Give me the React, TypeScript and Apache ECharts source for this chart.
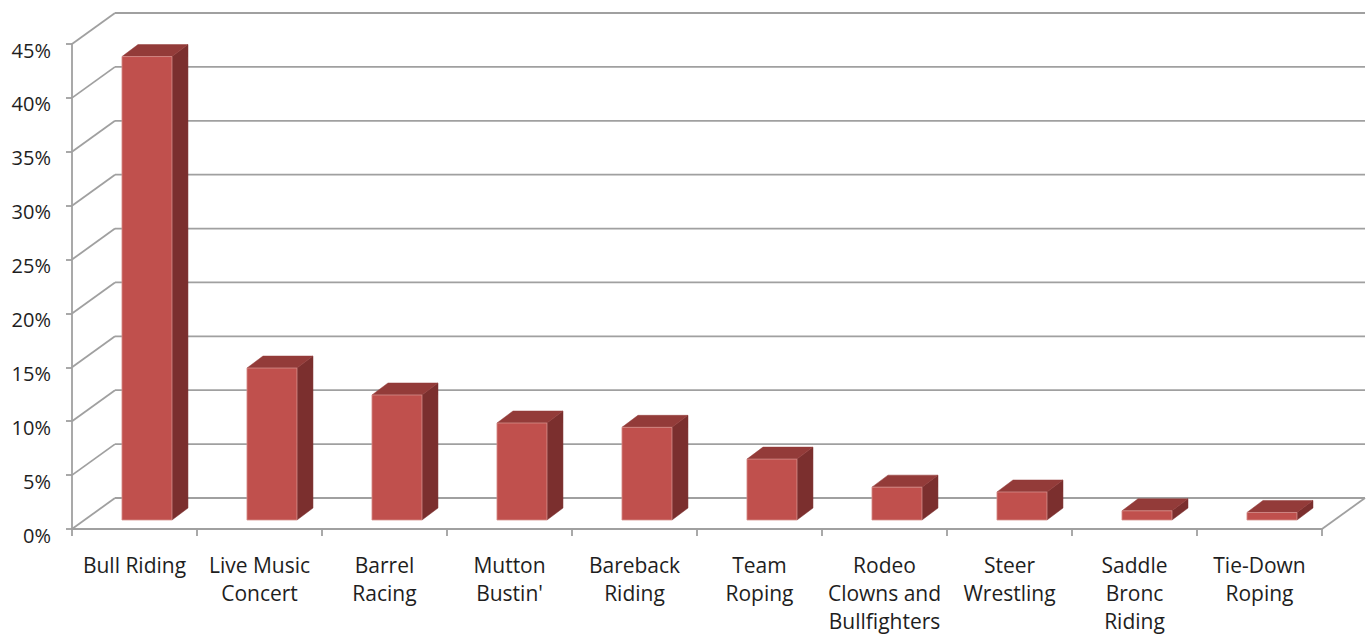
import React, { useEffect, useRef } from "react";
import * as echarts from "echarts";

const categories = [
  "Bull Riding",
  "Live Music\nConcert",
  "Barrel\nRacing",
  "Mutton\nBustin'",
  "Bareback\nRiding",
  "Team\nRoping",
  "Rodeo\nClowns and\nBullfighters",
  "Steer\nWrestling",
  "Saddle\nBronc\nRiding",
  "Tie-Down\nRoping",
];
const values = [43.0, 14.1, 11.6, 9.0, 8.6, 5.65, 3.05, 2.6, 0.85, 0.7];
const yTicks = [0, 5, 10, 15, 20, 25, 30, 35, 40, 45];

const DEPTH_X = 43;
const DEPTH_Y = 31;
const BAR_FRONT = 0.29;
const BAR_DX = 16;
const BAR_DY = 12;
const BAR_W = 50;
const GRID_COLOR = "#a0a0a0";
const FONT = "Open Sans";

export default function App() {
  const ref = useRef<HTMLDivElement>(null);
  useEffect(() => {
    const chart = echarts.init(ref.current!, null, { renderer: "svg" });
    chart.setOption({
      animation: false,
      backgroundColor: "#ffffff",
      grid: { left: 72, top: 44, width: 1250, height: 485, containLabel: false },
      xAxis: {
        type: "category",
        data: categories,
        boundaryGap: true,
        axisLine: { show: true, lineStyle: { color: GRID_COLOR, width: 1.8 } },
        axisTick: { show: true, length: 7, alignWithLabel: false, lineStyle: { color: GRID_COLOR, width: 1.8 } },
        axisLabel: {
          color: "#1e1e1e",
          fontFamily: FONT,
          fontSize: 21,
          lineHeight: 28,
          margin: 22,
          interval: 0,
        },
        splitLine: { show: false },
      },
      yAxis: {
        type: "value",
        min: 0,
        max: 45,
        interval: 5,
        axisLine: { show: true, lineStyle: { color: GRID_COLOR, width: 1.8 } },
        axisTick: { show: true, length: 6, lineStyle: { color: GRID_COLOR, width: 1.8 } },
        axisLabel: {
          color: "#1e1e1e",
          fontFamily: FONT,
          fontSize: 20,
          margin: 21,
          formatter: "{value}%",
          verticalAlign: "top",
          padding: [-4, 0, 0, 0],
        },
        splitLine: { show: false },
      },
      series: [
        {
          type: "custom",
          z: 1,
          silent: true,
          data: yTicks.map((v) => [0, v]),
          renderItem: (params: any, api: any) => {
            const cs = params.coordSys;
            const v = api.value(1);
            const y = api.coord([0, v])[1];
            const x0 = cs.x;
            const x1 = cs.x + cs.width;
            const style = { stroke: GRID_COLOR, lineWidth: 1.8, fill: "none" };
            const children: any[] = [
              { type: "line", shape: { x1: x0, y1: y, x2: x0 + DEPTH_X, y2: y - DEPTH_Y }, style },
              { type: "line", shape: { x1: x0 + DEPTH_X, y1: y - DEPTH_Y, x2: x1 + DEPTH_X, y2: y - DEPTH_Y }, style },
            ];
            if (v === 0) {
              children.push({ type: "line", shape: { x1: x1, y1: y, x2: x1 + DEPTH_X, y2: y - DEPTH_Y }, style });
            }
            return { type: "group", children };
          },
        },
        {
          type: "custom",
          z: 3,
          data: values.map((v, i) => [i, v]),
          renderItem: (params: any, api: any) => {
            const idx = api.value(0);
            const v = api.value(1);
            const base = api.coord([idx, 0]);
            const top = api.coord([idx, v]);
            const offX = BAR_FRONT * DEPTH_X;
            const offY = BAR_FRONT * DEPTH_Y;
            const cx = base[0] + offX;
            const xL = cx - BAR_W / 2;
            const xR = cx + BAR_W / 2;
            const yB = base[1] - offY;
            const yT = top[1] - offY;
            return {
              type: "group",
              children: [
                {
                  type: "polygon",
                  shape: { points: [[xR, yT], [xR + BAR_DX, yT - BAR_DY], [xR + BAR_DX, yB - BAR_DY], [xR, yB]] },
                  style: { fill: "#7b2f2e", stroke: "#7b2f2e", lineWidth: 0.5 },
                },
                {
                  type: "polygon",
                  shape: { points: [[xL, yT], [xL + BAR_DX, yT - BAR_DY], [xR + BAR_DX, yT - BAR_DY], [xR, yT]] },
                  style: { fill: "#933b39", stroke: "#933b39", lineWidth: 0.5 },
                },
                {
                  type: "rect",
                  shape: { x: xL, y: yT, width: BAR_W, height: yB - yT },
                  style: { fill: "#c0504d", stroke: "#d68f8c", lineWidth: 0.8 },
                },
              ],
            };
          },
        },
      ],
    });
    return () => chart.dispose();
  }, []);
  return (
    <div
      ref={ref}
      style={{ position: "fixed", left: 0, top: 0, width: 1368, height: 635 }}
    />
  );
}
